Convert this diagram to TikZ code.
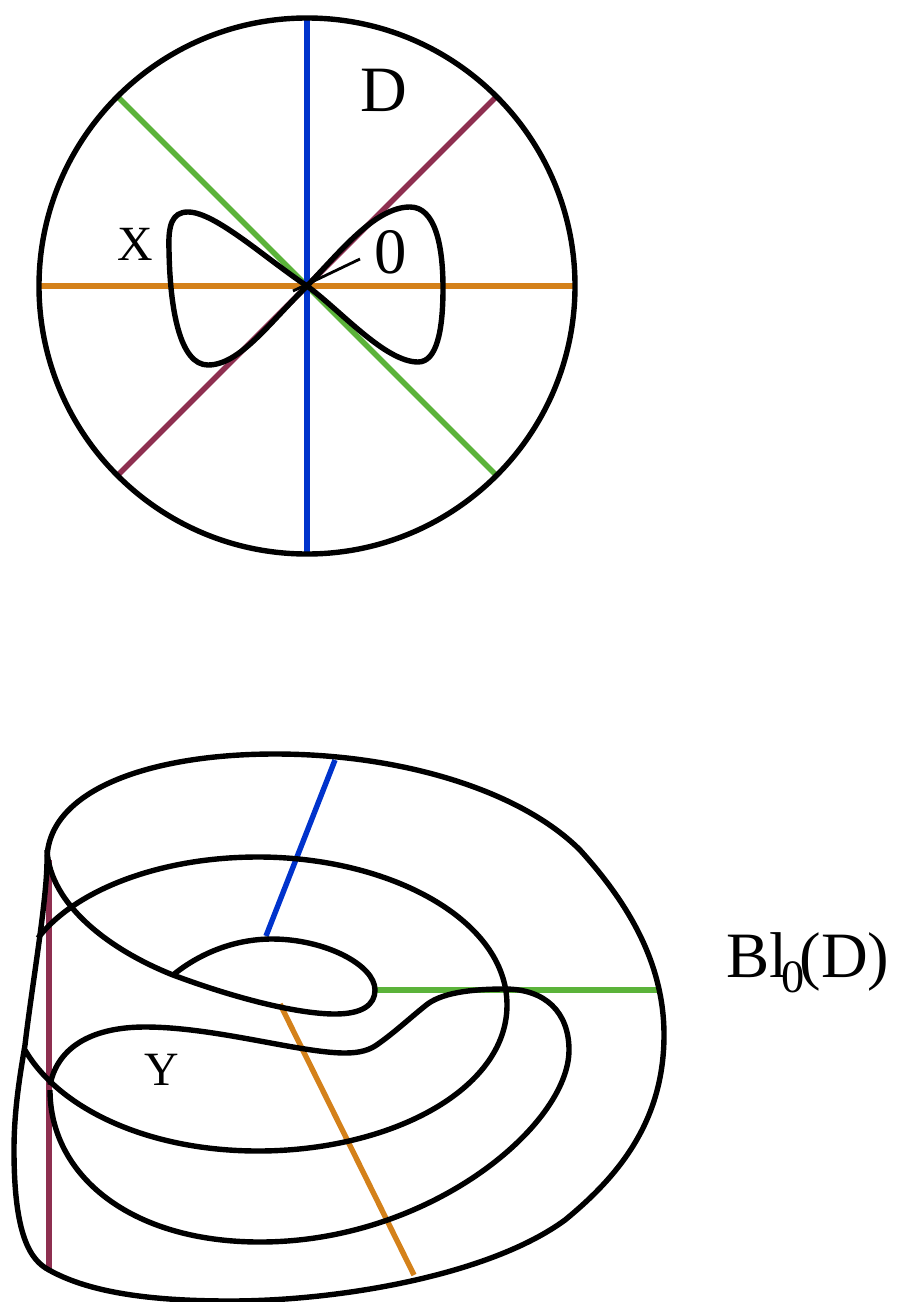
\documentclass[tikz,border=0pt]{standalone}
\usepackage{fontspec}
\setmainfont{Liberation Serif}
\usepackage{xcolor}
\definecolor{cBlue}{HTML}{0033CC}
\definecolor{cOrange}{HTML}{D4811A}
\definecolor{cGreen}{HTML}{5BB33A}
\definecolor{cMaroon}{HTML}{8E2F50}
\tikzset{
  curve/.style={line width=0.135cm, black, line join=round},
  ray/.style={line width=0.135cm},
  lab/.style={inner sep=0pt, text=black}
}
\begin{document}
\begin{tikzpicture}[x=0.025cm, y=-0.025cm]
  \useasboundingbox (0,0) rectangle (897,1302);
  % disc
  \coordinate (o) at (307,286);
  \begin{scope}[shift={(o)}]
    \foreach \a/\c in {45/cGreen, 135/cMaroon, 0/cOrange, 90/cBlue}{
      \draw[ray, \c] (\a:268) -- (\a+180:268);
    }
    \draw[curve] (0,0) circle (268);
  \end{scope}
  \draw[curve] (o) .. controls (340,310) and (385,362) .. (418,362)
    .. controls (437,362) and (443,330) .. (443,288)
    .. controls (443,245) and (435,207) .. (410,207)
    .. controls (375,207) and (340,252) .. (o)
    .. controls (270,322) and (240,365) .. (208,365)
    .. controls (180,365) and (170,310) .. (169,250)
    .. controls (168,225) and (172,212) .. (188,212)
    .. controls (215,212) and (265,258) .. (o);
  \node[lab, font=\fontsize{46}{46}\selectfont] (labD) at (384,90) {D};
  \node[lab, font=\fontsize{35}{35}\selectfont] (labX) at (135,244) {X};
  \node[lab, font=\fontsize{46}{46}\selectfont] (labO) at (391,252) {0};
  \coordinate (ptr) at (293,291);
  \draw[line width=0.07cm] (360,259) -- (ptr);
  % blow-up
  \coordinate (blueA) at (335,760);
  \coordinate (blueB) at (266,936);
  \coordinate (greenA) at (375,990);
  \coordinate (greenB) at (658,990);
  \coordinate (orangeA) at (280,1004);
  \coordinate (orangeB) at (414,1275);
  \coordinate (maroonA) at (49,860);
  \coordinate (maroonB) at (49,1271);
  \draw[ray, cBlue] (blueA) -- (blueB);
  \draw[ray, cGreen] (greenA) -- (greenB);
  \draw[ray, cOrange] (orangeA) -- (orangeB);
  \draw[ray, cMaroon] (maroonA) -- (maroonB);
  % outer surface
  \draw[curve] (47,860) .. controls (47,790) and (150,754) .. (275,754)
    .. controls (400,754) and (520,790) .. (580,850)
    .. controls (630,905) and (664,965) .. (664,1035)
    .. controls (664,1120) and (620,1175) .. (565,1220)
    .. controls (490,1275) and (340,1301) .. (230,1301)
    .. controls (140,1301) and (85,1290) .. (49,1270)
    .. controls (30,1260) and (14,1235) .. (14,1150)
    .. controls (14,1110) and (20,1075) .. (25,1045)
    .. controls (32,985) and (47,900) .. (47,860);
  % middle ring
  \draw[curve] (38,938) .. controls (75,890) and (160,857) .. (258,857)
    .. controls (390,857) and (507,920) .. (507,1005)
    .. controls (507,1090) and (390,1151) .. (258,1151)
    .. controls (150,1151) and (60,1110) .. (25,1050);
  % inner fold
  \draw[curve] (47,850) .. controls (50,905) and (110,950) .. (173,975)
    .. controls (240,1000) and (300,1014) .. (335,1014)
    .. controls (362,1014) and (375,1005) .. (375,990)
    .. controls (375,965) and (325,939) .. (272,939)
    .. controls (235,939) and (200,953) .. (173,975);
  % curve Y
  \draw[curve] (50,1085) .. controls (58,1045) and (95,1027) .. (145,1027)
    .. controls (215,1027) and (300,1053) .. (345,1053)
    .. controls (360,1053) and (370,1050) .. (378,1044)
    .. controls (395,1032) and (410,1018) .. (425,1006)
    .. controls (440,993) and (470,989) .. (505,989)
    .. controls (545,989) and (569,1012) .. (569,1050)
    .. controls (569,1125) and (430,1242) .. (260,1242)
    .. controls (130,1242) and (50,1175) .. (50,1090);
  \node[lab, font=\fontsize{34}{34}\selectfont] (labY) at (162,1070) {Y};
  \node[lab, font=\fontsize{46}{46}\selectfont, anchor=west] (labBl) at (726,963) {Bl\kern-0.09em\raisebox{-0.24em}{\fontsize{33}{33}\selectfont 0}\kern-0.08em(D)};
\end{tikzpicture}
\end{document}
